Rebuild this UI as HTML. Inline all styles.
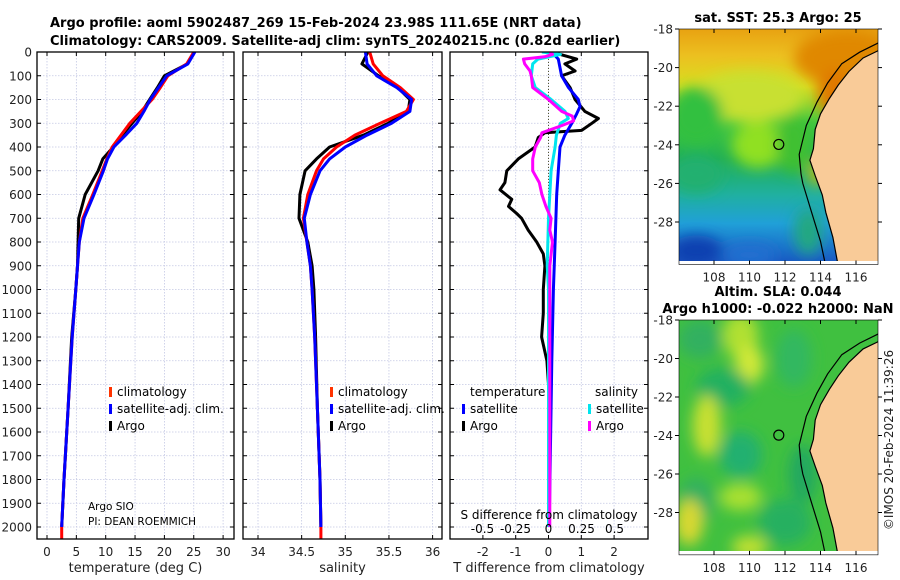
<!DOCTYPE html>
<html><head><meta charset="utf-8"><style>
body{margin:0;background:#fff}
svg{display:block;font-family:"DejaVu Sans","Liberation Sans",sans-serif}
</style></head><body>
<svg id="fig" width="900" height="580" viewBox="0 0 900 580" xmlns="http://www.w3.org/2000/svg">
<defs>
<filter id="blur6" x="-20%" y="-20%" width="140%" height="140%"><feGaussianBlur stdDeviation="7"/></filter>
<clipPath id="clipM1"><rect x="679" y="29" width="199" height="232"/></clipPath>
<clipPath id="clipM2"><rect x="679" y="320" width="199" height="231"/></clipPath>
<clipPath id="clipP1"><rect x="37" y="52" width="197" height="487"/></clipPath>
<clipPath id="clipP2"><rect x="243" y="52" width="199" height="487"/></clipPath>
<clipPath id="clipP3"><rect x="450" y="52" width="198" height="487"/></clipPath>
</defs>
<g font-weight="bold" font-size="13" fill="#000">
<text x="50" y="27">Argo profile: aoml 5902487_269 15-Feb-2024 23.98S 111.65E (NRT data)</text>
<text x="50" y="45">Climatology: CARS2009. Satellite-adj clim: synTS_20240215.nc (0.82d earlier)</text>
<text x="778" y="22" text-anchor="middle">sat. SST: 25.3 Argo: 25</text>
<text x="778" y="296" text-anchor="middle">Altim. SLA: 0.044</text>
<text x="778" y="313" text-anchor="middle">Argo h1000: -0.022 h2000: NaN</text>
</g>
<g id="panels"></g>
<g id="maps"></g>
<text transform="translate(893,440) rotate(-90)" text-anchor="middle" font-size="12" fill="#222">©IMOS 20-Feb-2024 11:39:26</text>
</svg>
<script>
// ---- data ----
const depths = [0,50,100,150,200,250,300,350,400,450,500,600,700,800,900,1000,1200,1500,1800,2000];
const tempClim = [25.0,23.8,20.6,19.3,17.9,16.0,14.1,12.6,11.1,10.2,9.4,7.8,6.1,5.5,5.2,4.9,4.3,3.6,2.9,2.5];
const tempSat  = [25.2,24.0,20.4,19.0,17.6,16.5,15.3,13.4,11.4,10.3,9.6,8.0,6.3,5.5,5.2,4.9,4.3,3.6,2.9,2.5];
const tempArgo = [25.1,23.9,20.0,18.8,17.5,16.2,14.5,12.8,11.3,9.5,8.7,6.5,5.4,5.3,5.2,4.9,4.2,3.6,2.9,2.5];
const salClim = [35.28,35.32,35.43,35.63,35.78,35.70,35.40,35.11,34.90,34.75,34.67,34.57,34.52,34.56,34.60,34.62,34.65,34.68,34.71,34.72];
const salSat  = [35.23,35.25,35.36,35.59,35.76,35.74,35.53,35.25,35.00,34.82,34.71,34.60,34.53,34.56,34.60,34.62,34.65,34.68,34.71,34.72];
const salArgo = [35.26,35.19,35.38,35.60,35.74,35.72,35.49,35.21,34.82,34.67,34.54,34.48,34.47,34.57,34.62,34.64,34.66,34.68,34.71,34.72];
const dTDepths = [0,30,50,80,100,150,200,250,280,300,330,340,360,400,450,500,550,580,620,650,680,700,750,800,850,900,1000,1100,1200,1300,1400,2000];
const dTArgo = [0.10,0.86,0.50,0.81,0.40,0.66,0.81,1.11,1.52,1.32,1.01,-0.11,-0.31,-0.41,-0.92,-1.27,-1.33,-1.48,-1.12,-1.22,-0.97,-0.82,-0.62,-0.36,-0.16,-0.11,-0.16,-0.16,-0.21,-0.05,0.0,0.0];
const dTSatDepths = [0,30,100,150,200,230,260,300,350,400,500,600,800,1000,1300,2000];
const dTSat = [0.10,0.30,0.40,0.61,0.91,0.96,0.86,0.71,0.50,0.35,0.30,0.25,0.20,0.15,0.10,0.02];
const dSSatDepths = [0,10,30,50,100,150,200,250,280,300,350,400,500,600,700,900,1000,2000];
const dSSat = [-0.05,0.09,-0.08,-0.12,-0.13,-0.10,0.02,0.125,0.15,0.09,0.06,0.05,0.02,0.01,0.0,-0.01,0.0,0.0];
const dSArgoDepths = [0,10,20,30,50,80,100,150,200,250,270,290,310,340,360,400,450,500,550,600,650,700,750,800,900,1000,2000];
const dSArgo = [0.01,0.03,-0.03,-0.19,-0.18,-0.14,-0.13,-0.12,0.0,0.10,0.18,0.19,0.10,-0.05,-0.06,-0.10,-0.12,-0.12,-0.07,-0.05,-0.02,0.02,0.01,0.03,0.01,0.01,0.01];
const depthTicks = [0,100,200,300,400,500,600,700,800,900,1000,1100,1200,1300,1400,1500,1600,1700,1800,1900,2000];
const tempTicks = [0,5,10,15,20,25,30];
const salTicks = [34,34.5,35,35.5,36];
const salTickLabels = ["34","34.5","35","35.5","36"];
const dTTicks = [-2,-1,0,1,2];
const dSTicks = [-0.5,-0.25,0,0.25,0.5];
const dSTickLabels = ["-0.5","-0.25","0","0.25","0.5"];
const lonTicks = [108,110,112,114,116];
const latTicks = [-18,-20,-22,-24,-26,-28];
const argoLon = 111.65, argoLat = -23.98;
const coastLon = [117.3,116.4,115.6,115.0,114.5,114.0,113.7,113.6,113.4,113.7,114.1,114.3,114.7,115.0];
const coastLat = [-19.1,-19.5,-20.2,-20.9,-21.6,-22.4,-23.2,-24.2,-24.8,-25.6,-26.6,-27.5,-28.8,-30.3];
const isoLon = [117.3,116.2,115.2,114.4,113.8,113.2,112.8,112.9,113.0,113.5,114.0,114.3];
const isoLat = [-18.7,-19.2,-19.8,-20.8,-21.8,-23.0,-24.5,-25.5,-26.0,-27.5,-29.0,-30.3];

// ---- axes ----
const NS='http://www.w3.org/2000/svg';
const yD = d => 52 + d*0.2375;
const xT = t => 47 + t*5.87;
const xS = s => 258 + (s-34)*87.3;
const xdT = v => 548.5 + v*32.8;
const xdS = v => 548.5 + v*132;
const mx = lon => 714 + (lon-108)*17.75;
const my1 = lat => 29 + (-18-lat)*19.3;
const my2 = lat => 320 + (-18-lat)*19.25;

function el(tag, attrs, parent){const e=document.createElementNS(NS,tag);for(const k in attrs)e.setAttribute(k,attrs[k]);parent.appendChild(e);return e;}
const P = document.getElementById('panels');
const M = document.getElementById('maps');

function panel(x0,x1,name,xticks,xfun,xlabels,xtitle,showDepth){
  const g=el('g',{},P);
  
  
  const grid=el('g',{stroke:'#c4c8e4','stroke-width':'0.8','stroke-dasharray':'1.5 1.5'},g);
  depthTicks.forEach(d=>{el('line',{x1:x0,x2:x1,y1:yD(d),y2:yD(d)},grid);});
  xticks.forEach(t=>{el('line',{x1:xfun(t),x2:xfun(t),y1:52,y2:539},grid);});
  const tk=el('g',{stroke:'#000','stroke-width':'1'},g);
  depthTicks.forEach(d=>{el('line',{x1:x0,x2:x0+4,y1:yD(d),y2:yD(d)},tk);el('line',{x1:x1-4,x2:x1,y1:yD(d),y2:yD(d)},tk);});
  xticks.forEach(t=>{el('line',{x1:xfun(t),x2:xfun(t),y1:539,y2:535},tk);el('line',{x1:xfun(t),x2:xfun(t),y1:52,y2:56},tk);});
  xticks.forEach((t,i)=>{const tx=el('text',{x:xfun(t),y:556,'text-anchor':'middle','font-size':'12',fill:'#222'},g);tx.textContent=xlabels[i];
    
    });
  const tt=el('text',{x:(x0+x1)/2,y:572,'text-anchor':'middle','font-size':'13',fill:'#222'},g);tt.textContent=xtitle;
  
  
  if(showDepth){depthTicks.forEach(d=>{const t=el('text',{x:32,y:yD(d)+4.5,'text-anchor':'end','font-size':'12',fill:'#222'},g);t.textContent=d;
    
    });}
  return g;
}
function line(g,xs,ds,xf,color,name,clip){
  const pts=xs.map((v,i)=>xf(v).toFixed(1)+','+yD(ds[i]).toFixed(1)).join(' ');
  const p=el('polyline',{points:pts,fill:'none',stroke:color,'stroke-width':'3','stroke-linejoin':'round','clip-path':'url(#'+clip+')'},g);
  
  
}
function frame(g,x0,x1){el('rect',{x:x0,y:52,width:x1-x0,height:487,fill:'none',stroke:'#000','stroke-width':'1.3'},g);}
function legendItem(g,x,y,color,label,name){
  el('rect',{x:x,y:y-9,width:3,height:10,fill:color},g);
  const t=el('text',{x:x+8,y:y,'font-size':'12',fill:'#000'},g);t.textContent=label;
  
  
}

// Panel 1
const g1=panel(37,234,'temperature-panel',tempTicks,xT,tempTicks.map(String),'temperature (deg C)',true);
line(g1,tempArgo,depths,xT,'#000','temp-argo-line','clipP1');
line(g1,tempClim.concat([2.5]),depths.concat([2060]),xT,'#ff0000','temp-clim-line','clipP1');
line(g1,tempSat,depths,xT,'#0000ff','temp-sat-line','clipP1');
legendItem(g1,109,396,'#ff3300','climatology','legend-climatology');
legendItem(g1,109,413,'#0000ff','satellite-adj. clim.','legend-satellite');
legendItem(g1,109,430,'#000','Argo','legend-argo');
const pi1=el('text',{x:88,y:510,'font-size':'10.5',fill:'#000'},g1);pi1.textContent='Argo SIO';


const pi2=el('text',{x:88,y:525,'font-size':'10.5',fill:'#000'},g1);pi2.textContent='PI: DEAN ROEMMICH';


frame(g1,37,234);

// Panel 2
const g2=panel(243,442,'salinity-panel',salTicks,xS,salTickLabels,'salinity',false);
line(g2,salArgo,depths,xS,'#000','sal-argo-line','clipP2');
line(g2,salClim.concat([34.72]),depths.concat([2060]),xS,'#ff0000','sal-clim-line','clipP2');
line(g2,salSat,depths,xS,'#0000ff','sal-sat-line','clipP2');
legendItem(g2,330,396,'#ff3300','climatology','legend-climatology');
legendItem(g2,330,413,'#0000ff','satellite-adj. clim.','legend-satellite');
legendItem(g2,330,430,'#000','Argo','legend-argo');
frame(g2,243,442);

// Panel 3
const g3=panel(450,648,'difference-panel',dTTicks,xdT,dTTicks.map(String),'T difference from climatology',false);
el('line',{x1:548.5,x2:548.5,y1:56,y2:400,stroke:'#555533','stroke-width':'1','stroke-dasharray':'1 2'},g3);
line(g3,dTArgo,dTDepths,xdT,'#000','dT-argo-line','clipP3');
line(g3,dTSat,dTSatDepths,xdT,'#0000ff','dT-sat-line','clipP3');
line(g3,dSSat,dSSatDepths,xdS,'#00e5ee','dS-sat-line','clipP3');
line(g3,dSArgo,dSArgoDepths,xdS,'#ff00ff','dS-argo-line','clipP3');
const lt=el('text',{x:470,y:396,'font-size':'12'},g3);lt.textContent='temperature';


const ls=el('text',{x:595,y:396,'font-size':'12'},g3);ls.textContent='salinity';


legendItem(g3,462,413,'#0000ff','satellite','legend-t-satellite');
legendItem(g3,462,430,'#000','Argo','legend-t-argo');
legendItem(g3,588,413,'#00e5ee','satellite','legend-s-satellite');
legendItem(g3,588,430,'#ff00ff','Argo','legend-s-argo');
const sdt=el('text',{x:549,y:519,'text-anchor':'middle','font-size':'12'},g3);sdt.textContent='S difference from climatology';


dSTicks.forEach((v,i)=>{const t=el('text',{x:xdS(v),y:533,'text-anchor':'middle','font-size':'12'},g3);t.textContent=dSTickLabels[i];
  
  });
frame(g3,450,648);

// ---- maps ----
function poly(lons,lats,myf){return lons.map((l,i)=>mx(l).toFixed(1)+','+myf(lats[i]).toFixed(1)).join(' ');}
function map(myf,clip,name,blobs,bg){
  const g=el('g',{},M);
  
  
  const cg=el('g',{'clip-path':'url(#'+clip+')'},g);
  const top=myf(-17.9), bot=myf(-30.3);
  bg(cg,top,bot);
  const bg2=el('g',{filter:'url(#blur6)'},cg);
  blobs.forEach(b=>el('ellipse',{cx:mx(b[0]),cy:myf(b[1]),rx:b[2]*17.75,ry:b[3]*19.3,fill:b[4]},bg2));
  const land=poly(coastLon.concat([117.5,117.5]),coastLat.concat([-30.5,-18.5]),myf);
  const lp=el('polygon',{points:land,fill:'#f9cb98',stroke:'#000','stroke-width':'1.2'},cg);
  
  
  const iso=el('polyline',{points:poly(isoLon,isoLat,myf),fill:'none',stroke:'#000','stroke-width':'1.2'},cg);
  
  
  const c=el('circle',{cx:mx(argoLon),cy:myf(argoLat),r:5,fill:'none',stroke:'#000','stroke-width':'1.2'},g);
  
  
  el('rect',{x:679,y:myf(-18),width:199,height:myf(-30.2)-myf(-18),fill:'none',stroke:'#000','stroke-width':'0.6'},g);
  lonTicks.forEach(l=>{el('line',{x1:mx(l),x2:mx(l),y1:myf(-30.2),y2:myf(-30.2)-4,stroke:'#000'},g);el('line',{x1:mx(l),x2:mx(l),y1:myf(-18),y2:myf(-18)+4,stroke:'#000'},g);
    const t=el('text',{x:mx(l),y:myf(-30.2)+17,'text-anchor':'middle','font-size':'12',fill:'#222'},g);t.textContent=l;
    
    });
  latTicks.forEach(l=>{el('line',{x1:679,x2:675,y1:myf(l),y2:myf(l),stroke:'#000'},g);el('line',{x1:878,x2:882,y1:myf(l),y2:myf(l),stroke:'#000'},g);
    const t=el('text',{x:673,y:myf(l)+4.5,'text-anchor':'end','font-size':'12',fill:'#222'},g);t.textContent=l;
    
    });
}
function sstBg(g,top,bot){
  const lg=el('linearGradient',{id:'sstg',x1:0,y1:0,x2:0,y2:1},g);
  [[0,'#e8a010'],[0.12,'#ecc020'],[0.25,'#d8e020'],[0.4,'#40c840'],[0.55,'#20b050'],[0.7,'#20b0a0'],[0.82,'#20a0d8'],[1,'#1850c0']].forEach(s=>el('stop',{offset:s[0],'stop-color':s[1]},lg));
  el('rect',{x:679,y:top,width:199,height:bot-top,fill:'url(#sstg)'},g);
}
const sstBlobs=[[115.5,-19.5,3,1.5,'#e08800'],[114.8,-21.3,1,1.2,'#e07800'],[110,-21.5,3,1.3,'#c8e030'],[107,-22.5,1.5,1.5,'#30c040'],[110.5,-24,1.5,1.2,'#90e020'],[112.5,-24,1,1.5,'#40c030'],[107,-25.5,1.5,1,'#20b070'],[107,-29.5,1.5,0.8,'#1040b0'],[110,-29.7,1.5,0.6,'#2070d0'],[113.3,-28.5,0.8,1.2,'#20a880'],[113.8,-25.5,0.4,0.6,'#e0c000']];
map(my1,'clipM1','sst-map',sstBlobs,sstBg);
function slaBg(g,top,bot){el('rect',{x:679,y:top,width:199,height:bot-top,fill:'#40c040'},g);}
const slaBlobs=[[107.2,-19,1.2,1,'#30b060'],[109.5,-18.8,1,1.2,'#b0e030'],[110,-20.3,0.8,1,'#d0e838'],[108.5,-21.5,1.5,1,'#20b060'],[107.6,-23.5,0.8,1.6,'#c8e030'],[109.5,-25,1.2,1.2,'#20b070'],[107,-27.4,1,1.2,'#30b060'],[106.6,-28.5,0.8,1.2,'#d8d830'],[109.5,-27.2,1.2,0.7,'#a8e030'],[110,-29.8,1,0.6,'#c0e030'],[112,-28.5,1.5,1.2,'#28b060'],[112.5,-20,1,1.5,'#30b860'],[113,-26,0.8,1.5,'#20a860']];
map(my2,'clipM2','sla-map',slaBlobs,slaBg);
</script>
</body></html>
